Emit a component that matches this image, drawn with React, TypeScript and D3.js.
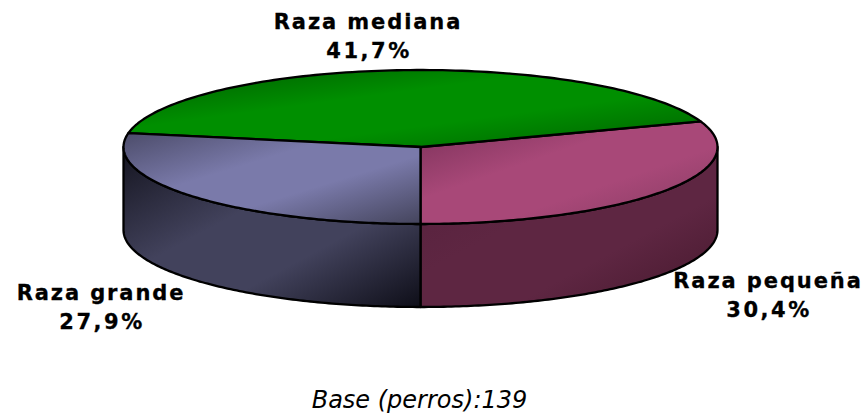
import React from "react";
import * as d3 from "d3";

const categories = ["Raza pequeña", "Raza mediana", "Raza grande"];
const values = [30.4, 41.7, 27.9];
const valueLabels = ["30,4%", "41,7%", "27,9%"];
const topStops = [
  ["#7a3058", "#a84878", "#a84878", "#843a60"],
  ["#005a00", "#008f00", "#008f00", "#005f00"],
  ["#4c4c6a", "#7a7aaa", "#7a7aaa", "#44445c"],
];
const sideStops = [
  ["#54203c", "#5e2642", "#5e2642", "#45182c"],
  ["#14141f", "#42425c", "#42425c", "#0e0e18"],
];
const labelX = [768, 368, 101];
const labelY = [288, 29, 300];
const base = "Base (perros):139";

const W = 864, H = 414;
const cx = 420.5, cy = 147, rx = 297, ry = 77, depth = 83;
const xS = d3.scaleLinear().domain([-1, 1]).range([cx - rx, cx + rx]);
const yS = d3.scaleLinear().domain([-1, 1]).range([cy + ry, cy - ry]);

// start at six o'clock, going anticlockwise in the picture
const pie = d3.pie<number>().sort(null).startAngle(0).endAngle(2 * Math.PI);
const arcs = pie(values);
const pt = (a: number): [number, number] => [Math.sin(a), -Math.cos(a)];
const line = d3.line<[number, number]>().x((d) => xS(d[0])).y((d) => yS(d[1]));
const sample = (a0: number, a1: number) =>
  d3.range(0, 121).map((i) => pt(a0 + ((a1 - a0) * i) / 120));

const App = () => {
  const tops = arcs.map((a) => {
    const p = sample(a.startAngle, a.endAngle);
    return `M${cx},${cy}L${line(p)!.slice(1)}Z`;
  });
  // walls: the visible front half only, split at six o'clock
  const walls = [sample(0, Math.PI / 2), sample(0, -Math.PI / 2)].map((p) => {
    const up = line(p)!;
    const back = p.slice().reverse().map((q) => [xS(q[0]), yS(q[1]) + depth] as [number, number]);
    return `${up}L${back.map((q) => q.join(",")).join("L")}Z`;
  });
  return (
    <svg width={W} height={H} style={{ position: "absolute", left: 0, top: 0, display: "block" }}>
      <defs>
        {topStops.map((s, i) => (
          <linearGradient key={i} id={`t${i}`} x1="0" y1="0" x2="1" y2="1">
            {s.map((c, j) => <stop key={j} offset={[0, 0.38, 0.62, 1][j]} stopColor={c} />)}
          </linearGradient>
        ))}
        {sideStops.map((s, i) => (
          <linearGradient key={i} id={`s${i}`} x1="0" y1="0" x2="1" y2="1">
            {s.map((c, j) => <stop key={j} offset={[0, 0.4, 0.65, 1][j]} stopColor={c} />)}
          </linearGradient>
        ))}
      </defs>
      {walls.map((d, i) => (
        <path key={i} d={d} fill={`url(#s${i})`} stroke="#000" strokeWidth={2.3} strokeLinejoin="round" />
      ))}
      {tops.map((d, i) => (
        <path key={i} d={d} fill={`url(#t${i})`} stroke="#000" strokeWidth={2.3} strokeLinejoin="round" />
      ))}
      <g fontFamily="'DejaVu Sans'" fontWeight="bold" fontSize={21} fill="#000" stroke="#000" strokeWidth={0.3} textAnchor="middle" letterSpacing={1.9}>
        {categories.map((c, i) => (
          <g key={c}>
            <text x={labelX[i]} y={labelY[i]}>{c}</text>
            <text x={labelX[i] + 1} y={labelY[i] + 29} letterSpacing={2.5}>{valueLabels[i]}</text>
          </g>
        ))}
      </g>
      <text x={419.5} y={408} fontFamily="'DejaVu Sans'" fontStyle="italic" fontSize={24} textAnchor="middle" fill="#000">{base}</text>
    </svg>
  );
};
export default App;
